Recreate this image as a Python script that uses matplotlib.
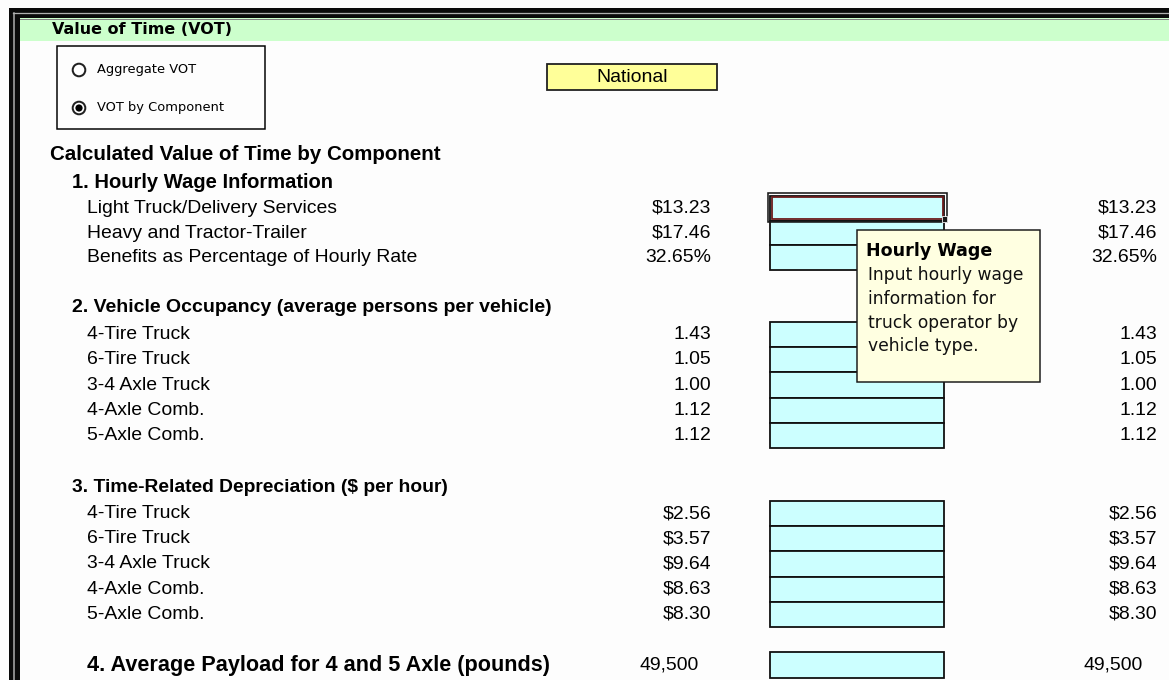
import matplotlib
matplotlib.use("Agg")
import matplotlib.pyplot as plt
from matplotlib.patches import Rectangle, Circle

# ---------------- data ----------------
title = "Value of Time (VOT)"
radio_options = ["Aggregate VOT", "VOT by Component"]
region = "National"
main_heading = "Calculated Value of Time by Component"

sec1_title = "1. Hourly Wage Information"
sec1_labels = ["Light Truck/Delivery Services", "Heavy and Tractor-Trailer",
               "Benefits as Percentage of Hourly Rate"]
hourly_wage = [13.23, 17.46]
benefits_pct = 32.65

sec2_title = "2. Vehicle Occupancy (average persons per vehicle)"
vehicle_labels = ["4-Tire Truck", "6-Tire Truck", "3-4 Axle Truck",
                  "4-Axle Comb.", "5-Axle Comb."]
occupancy = [1.43, 1.05, 1.00, 1.12, 1.12]

sec3_title = "3. Time-Related Depreciation ($ per hour)"
depreciation = [2.56, 3.57, 9.64, 8.63, 8.30]

sec4_title = "4. Average Payload for 4 and 5 Axle (pounds)"
payload = 49500

tip_title = "Hourly Wage"
tip_lines = ["Input hourly wage", "information for", "truck operator by", "vehicle type."]

# ---------------- figure ----------------
W, H = 1169, 680
fig = plt.figure(figsize=(W / 100, H / 100), dpi=100)
fig.patch.set_facecolor("#fdfdfd")
ax = fig.add_axes([0, 0, 1, 1])
ax.set_xlim(0, W)
ax.set_ylim(H, 0)
ax.axis("off")

PX = 0.72  # one pixel in points
SANS = "Liberation Sans"
FS = 13.95
FSB = 14.0

# window frame
ax.add_patch(Rectangle((9, 8), W - 9, 10, facecolor="#0a0a0a", edgecolor="none", zorder=5))
ax.plot([13, W], [12.5, 12.5], color="#b0b0b0", lw=1.3 * PX, zorder=6)
ax.add_patch(Rectangle((9, 8), 11, H - 8, facecolor="#0a0a0a", edgecolor="none", zorder=5))
ax.plot([13.5, 13.5], [12.5, H], color="#b0b0b0", lw=1.5 * PX, zorder=6)

# green title band
ax.add_patch(Rectangle((20, 18), W - 20, 23, facecolor="#ccffcc", edgecolor="none", zorder=1))
ax.plot([20, W], [18.5, 18.5], color="#808080", lw=1 * PX, zorder=2)
ax.text(52, 30, title, fontsize=11.5, fontweight="heavy", family="DejaVu Sans",
        va="center", ha="left", color="#000000", zorder=3)

# radio group
ax.add_patch(Rectangle((57, 46), 208, 83, facecolor="none", edgecolor="#000000",
                       lw=1.5 * PX, zorder=2))
radio_y = [70, 108]
for i, (lab, ry) in enumerate(zip(radio_options, radio_y)):
    ax.add_patch(Circle((79, ry), 6.3, facecolor="white", edgecolor="#202020",
                        lw=2.0 * PX, zorder=3))
    if i == 1:
        ax.add_patch(Circle((79, ry), 3.6, facecolor="#000000", edgecolor="none", zorder=4))
    ax.text(97, ry, lab, fontsize=9.4, family="DejaVu Sans", va="center",
            ha="left", color="#000000", zorder=3)

# region box
ax.add_patch(Rectangle((547, 64), 170, 26, facecolor="#ffff99", edgecolor="#202020",
                       lw=1.8 * PX, zorder=2))
ax.text(632, 77, region, fontsize=FS, family=SANS, va="center", ha="center", zorder=3)

# headings
ax.text(50, 155, main_heading, fontsize=14.8, fontweight="bold", family=SANS,
        va="center", ha="left")

LBL_X = 87
HDR_X = 72
LEFT_X = 711
RIGHT_X = 1157
BOX_X0, BOX_X1 = 770, 944


def row_block(top, pitch, n):
    return [top + i * pitch for i in range(n)]


def draw_boxes(tops, pitch):
    for t in tops:
        ax.add_patch(Rectangle((BOX_X0, t), BOX_X1 - BOX_X0, pitch,
                               facecolor="#ccffff", edgecolor="#101010",
                               lw=1.8 * PX, zorder=2))


def draw_rows(labels, left_vals, right_vals, tops, pitch, lx=LBL_X,
              left_x=LEFT_X, right_x=RIGHT_X, **kw):
    for lab, lv, rv, t in zip(labels, left_vals, right_vals, tops):
        yc = t + pitch / 2
        ax.text(lx, yc, lab, family=SANS, va="center", ha="left",
                **({"fontsize": FS} | kw))
        ax.text(left_x, yc, lv, fontsize=FS, family=SANS, va="center", ha="right")
        ax.text(right_x, yc, rv, fontsize=FS, family=SANS, va="center", ha="right")


# section 1
ax.text(HDR_X, 182, sec1_title, fontsize=14.5, fontweight="bold", family=SANS,
        va="center", ha="left")
p1 = 24.7
tops1 = row_block(196, p1, 3)
vals1 = [f"${v:.2f}" for v in hourly_wage] + [f"{benefits_pct:.2f}%"]
draw_boxes(tops1, p1)
draw_rows(sec1_labels, vals1, vals1, tops1, p1)
# selected cell outline
ax.add_patch(Rectangle((768, 193), 179, 29, facecolor="none", edgecolor="#1a1a1a",
                       lw=1.6 * PX, zorder=4))
ax.add_patch(Rectangle((772, 196.5), 171, 22, facecolor="none", edgecolor="#6b1a1a",
                       lw=1.8 * PX, zorder=4))
ax.add_patch(Rectangle((942, 216), 5, 6, facecolor="#1a1a1a", edgecolor="white",
                       lw=0.8 * PX, zorder=5))

# section 2
ax.text(HDR_X, 308, sec2_title, fontsize=FSB, fontweight="bold", family=SANS,
        va="center", ha="left")
p2 = 25.2
tops2 = row_block(322, p2, 5)
vals2 = [f"{v:.2f}" for v in occupancy]
draw_boxes(tops2, p2)
draw_rows(vehicle_labels, vals2, vals2, tops2, p2)

# section 3
ax.text(HDR_X, 487, sec3_title, fontsize=13.85, fontweight="bold", family=SANS,
        va="center", ha="left")
p3 = 25.2
tops3 = row_block(501, p3, 5)
vals3 = [f"${v:.2f}" for v in depreciation]
draw_boxes(tops3, p3)
draw_rows(vehicle_labels, vals3, vals3, tops3, p3)

# section 4
tops4 = row_block(652, 26, 1)
draw_boxes(tops4, 26)
pl = f"{payload:,}"
draw_rows([sec4_title], [pl], [pl], tops4, 26, left_x=699, right_x=1143,
          fontsize=15.6, fontweight="bold")

# tooltip
ax.add_patch(Rectangle((857, 230), 183, 152, facecolor="#ffffe1", edgecolor="#1a1a1a",
                       lw=1.5 * PX, zorder=10))
ax.text(866, 251, tip_title, fontsize=12.6, fontweight="bold", family="DejaVu Sans",
        va="center", ha="left", zorder=11)
for i, line in enumerate(tip_lines):
    ax.text(868, 275 + i * 23.8, line, fontsize=12.3, family="DejaVu Sans",
            va="center", ha="left", zorder=11, color="#111111")

fig.savefig("out.png", dpi=100, facecolor=fig.get_facecolor())
